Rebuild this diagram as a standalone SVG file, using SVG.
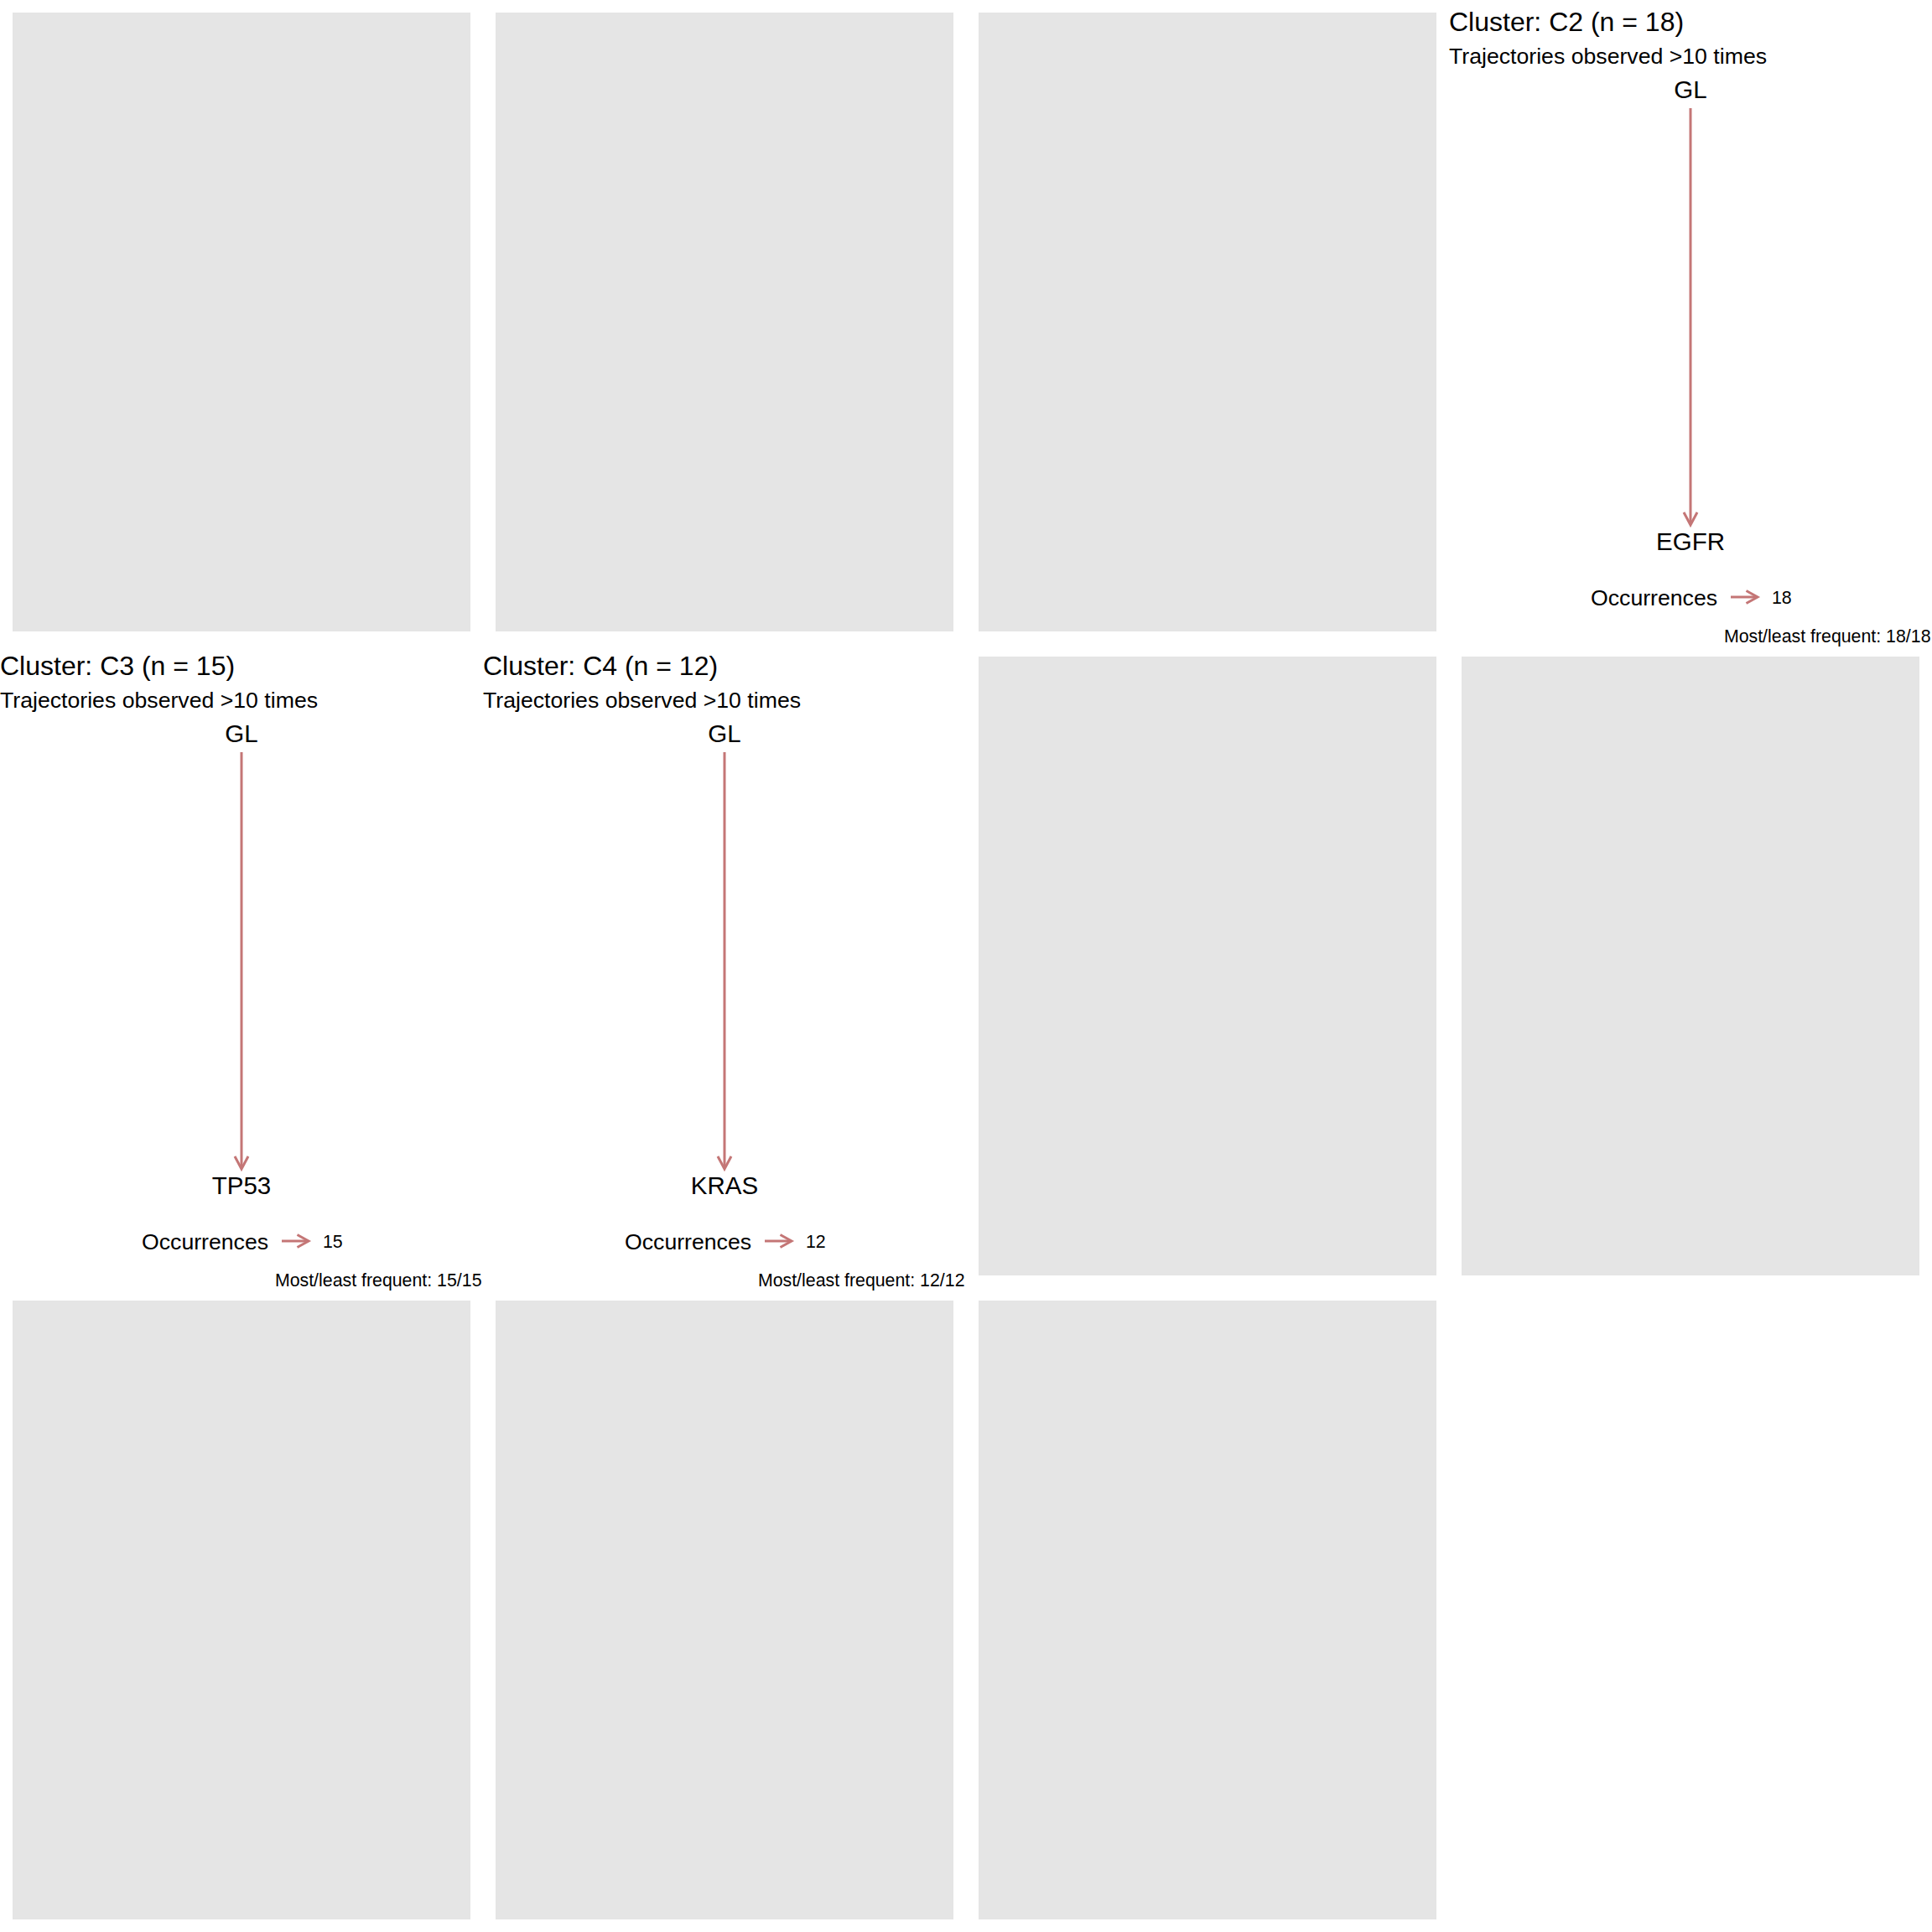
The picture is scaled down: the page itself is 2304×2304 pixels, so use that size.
<svg xmlns="http://www.w3.org/2000/svg" width="2304" height="2304" viewBox="0 0 2304 2304">
  <style>
    text { font-family: "Liberation Sans", Arial, sans-serif; fill: #000000; }
    .panel { fill: #E5E5E5; }
    .title { font-size: 32px; }
    .subtitle { font-size: 26.67px; }
    .node { font-size: 29.5px; text-anchor: middle; }
    .legend-title { font-size: 26.67px; }
    .legend-label { font-size: 21.33px; }
    .caption { font-size: 21.33px; text-anchor: end; }
    .edge { stroke: #C47676; stroke-width: 3; fill: none; }
  </style>

  <rect width="2304" height="2304" fill="#FFFFFF"/>

  <!-- empty facet panels -->
  <g id="empty-panels">
    <rect class="panel" x="15" y="15" width="546" height="738"/>
    <rect class="panel" x="591" y="15" width="546" height="738"/>
    <rect class="panel" x="1167" y="15" width="546" height="738"/>
    <rect class="panel" x="1167" y="783" width="546" height="738"/>
    <rect class="panel" x="1743" y="783" width="546" height="738"/>
    <rect class="panel" x="15" y="1551" width="546" height="738"/>
    <rect class="panel" x="591" y="1551" width="546" height="738"/>
    <rect class="panel" x="1167" y="1551" width="546" height="738"/>
  </g>

  <!-- cluster C2 -->
  <g id="cluster-c2" transform="translate(1728,0)">
    <text class="title" x="0" y="37">Cluster: C2 (n = 18)</text>
    <text class="subtitle" x="0" y="76">Trajectories observed &gt;10 times</text>
    <g id="c2-node-gl"><text class="node" x="288" y="117">GL</text></g>
    <g id="c2-node-egfr"><text class="node" x="288" y="656">EGFR</text></g>
    <g id="c2-edges">
      <line class="edge" x1="288" y1="129" x2="288" y2="625"/>
      <polyline class="edge" points="280,611 288,626 296,611"/>
    </g>
    <g id="c2-legend">
      <text class="legend-title" x="169" y="722">Occurrences</text>
      <line class="edge" x1="336" y1="712" x2="367" y2="712"/>
      <polyline class="edge" points="354.5,704.5 368,712 354.5,719.5"/>
      <text class="legend-label" x="385" y="720">18</text>
    </g>
    <text class="caption" x="574.5" y="765.5">Most/least frequent: 18/18</text>
  </g>

  <!-- cluster C3 -->
  <g id="cluster-c3" transform="translate(0,768)">
    <text class="title" x="0" y="37">Cluster: C3 (n = 15)</text>
    <text class="subtitle" x="0" y="76">Trajectories observed &gt;10 times</text>
    <g id="c3-node-gl"><text class="node" x="288" y="117">GL</text></g>
    <g id="c3-node-tp53"><text class="node" x="288" y="656">TP53</text></g>
    <g id="c3-edges">
      <line class="edge" x1="288" y1="129" x2="288" y2="625"/>
      <polyline class="edge" points="280,611 288,626 296,611"/>
    </g>
    <g id="c3-legend">
      <text class="legend-title" x="169" y="722">Occurrences</text>
      <line class="edge" x1="336" y1="712" x2="367" y2="712"/>
      <polyline class="edge" points="354.5,704.5 368,712 354.5,719.5"/>
      <text class="legend-label" x="385" y="720">15</text>
    </g>
    <text class="caption" x="574.5" y="765.5">Most/least frequent: 15/15</text>
  </g>

  <!-- cluster C4 -->
  <g id="cluster-c4" transform="translate(576,768)">
    <text class="title" x="0" y="37">Cluster: C4 (n = 12)</text>
    <text class="subtitle" x="0" y="76">Trajectories observed &gt;10 times</text>
    <g id="c4-node-gl"><text class="node" x="288" y="117">GL</text></g>
    <g id="c4-node-kras"><text class="node" x="288" y="656">KRAS</text></g>
    <g id="c4-edges">
      <line class="edge" x1="288" y1="129" x2="288" y2="625"/>
      <polyline class="edge" points="280,611 288,626 296,611"/>
    </g>
    <g id="c4-legend">
      <text class="legend-title" x="169" y="722">Occurrences</text>
      <line class="edge" x1="336" y1="712" x2="367" y2="712"/>
      <polyline class="edge" points="354.5,704.5 368,712 354.5,719.5"/>
      <text class="legend-label" x="385" y="720">12</text>
    </g>
    <text class="caption" x="574.5" y="765.5">Most/least frequent: 12/12</text>
  </g>
</svg>
